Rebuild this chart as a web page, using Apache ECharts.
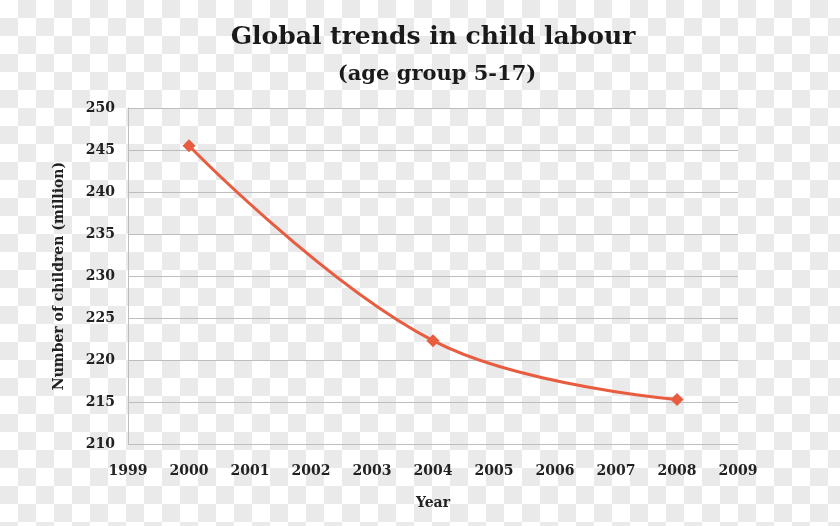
<!DOCTYPE html>
<html>
<head>
<meta charset="utf-8">
<script src="https://cdn.jsdelivr.net/npm/echarts@6/dist/echarts.min.js"></script>
<style>
html,body{margin:0;padding:0;}
body{
  width:840px;height:526px;overflow:hidden;
  background: repeating-conic-gradient(#eaeaea 0% 25%, #ffffff 0% 50%) 0 0/36px 36px;
}
#c{width:840px;height:526px;}
</style>
</head>
<body>
<div id="c"></div>
<script>
const years = [2000, 2004, 2008];
const children = [245.5, 222.3, 215.3];
const xTicks = [1999, 2000, 2001, 2002, 2003, 2004, 2005, 2006, 2007, 2008, 2009];
const yTicks = [210, 215, 220, 225, 230, 235, 240, 245, 250];

const font = '"DejaVu Serif", serif';
const chart = echarts.init(document.getElementById('c'));
chart.setOption({
  backgroundColor: 'transparent',
  animation: false,
  title: [
    {text: 'Global trends in child labour', left: 428, top: 20, textAlign: 'center',
     textStyle: {fontFamily: font, fontSize: 25, fontWeight: 'bold', color: '#1a1a1a'}},
    {text: '(age group 5-17)', left: 432, top: 59, textAlign: 'center',
     textStyle: {fontFamily: font, fontSize: 21, fontWeight: 'bold', color: '#1a1a1a'}}
  ],
  grid: {left: 128, right: 102, top: 108, bottom: 82},
  xAxis: {
    type: 'value', min: xTicks[0], max: xTicks[xTicks.length - 1], interval: 1,
    name: 'Year', nameLocation: 'middle', nameGap: 52,
    nameTextStyle: {fontFamily: font, fontSize: 14, fontWeight: 'bold', color: '#222'},
    axisLine: {show: false}, axisTick: {show: false}, splitLine: {show: false},
    axisLabel: {fontFamily: font, fontSize: 14, fontWeight: 'bold', color: '#222', margin: 20,
      formatter: v => String(v)}
  },
  yAxis: {
    type: 'value', min: yTicks[0], max: yTicks[yTicks.length - 1], interval: 5,
    name: 'Number of children (million)', nameLocation: 'middle', nameGap: 62, nameRotate: 90,
    nameTextStyle: {fontFamily: font, fontSize: 14, fontWeight: 'bold', color: '#222'},
    axisLine: {show: true, lineStyle: {color: '#bdbdbd', width: 1}},
    axisTick: {show: false},
    splitLine: {show: true, lineStyle: {color: '#bdbdbd', width: 1}},
    axisLabel: {fontFamily: font, fontSize: 14, fontWeight: 'bold', color: '#222', margin: 13}
  },
  series: [{
    type: 'line',
    data: years.map((y, i) => [y, children[i]]),
    smooth: 0.4,
    symbol: 'diamond', symbolSize: 13,
    lineStyle: {color: '#e85c40', width: 3},
    itemStyle: {color: '#e85c40'}
  }]
});
</script>
</body>
</html>
